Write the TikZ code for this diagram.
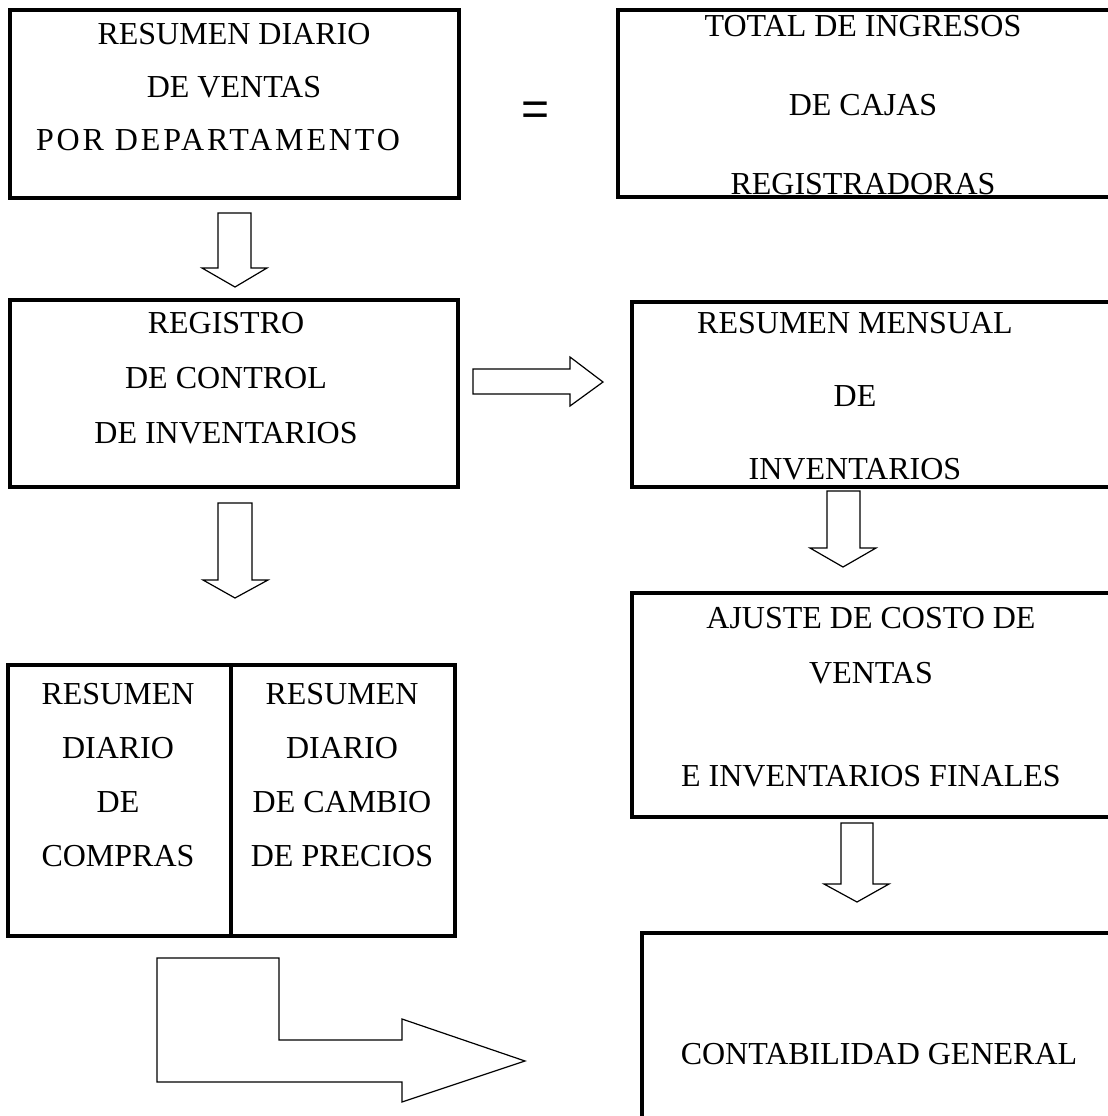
\documentclass[tikz,border=0pt]{standalone}
\usepackage{fontspec}
\setmainfont{Liberation Serif}
\setsansfont{Liberation Sans}
\tikzset{
  box/.style={line width=2.2pt},
  blk/.style={line width=0.6pt, line join=miter},
  txt/.style={font=\fontsize{16pt}{#1}\selectfont, align=center, inner sep=0pt, anchor=north}
}

\begin{document}
\begin{tikzpicture}[x=0.5pt,y=-0.5pt]
\clip (0,0) rectangle (1108,1116);
% cajas
\draw[box] (10,10) rectangle (459,198);
\draw[box] (618,10) rectangle (1130,197);
\draw[box] (10,300) rectangle (458,487);
\draw[box] (632,302) rectangle (1130,487);
\draw[box] (632,593) rectangle (1130,817);
\draw[box] (8,665) rectangle (231,936);
\draw[box] (231,665) rectangle (455,936);
\draw[box] (642,933) rectangle (1130,1140);
% textos
\node[txt=26.5pt] (resventas) at (234,23) {RESUMEN DIARIO\\DE VENTAS\\{\addfontfeature{LetterSpace=9}POR DEPARTAMENTO}\hspace*{16pt}};
\node[txt=39.5pt] (totingresos) at (863,15) {TOTAL DE INGRESOS\\DE CAJAS\\REGISTRADORAS};
\node[font=\sffamily\fontsize{24pt}{24pt}\selectfont, inner sep=0pt] (igual) at (536,114) {=};
\node[txt=27.5pt] (regcontrol) at (226,312) {REGISTRO\\DE CONTROL\\DE INVENTARIOS};
\node[txt=36.5pt] (resmensual) at (855,312) {RESUMEN MENSUAL\\DE\\INVENTARIOS};
\node[txt=27.5pt] (ajuste) at (871,607) {AJUSTE DE COSTO DE\\VENTAS\\[24pt]E INVENTARIOS FINALES};
\node[txt=27pt] (rescompras) at (118,683) {RESUMEN\\DIARIO\\DE\\COMPRAS};
\node[txt=27pt] (rescambio) at (342,683) {RESUMEN\\DIARIO\\DE CAMBIO\\DE PRECIOS};
\node[txt=20pt] (contab) at (879,1043) {CONTABILIDAD GENERAL};
% flechas
\draw[blk] (218,213) -- (251,213) -- (251,268) -- (267,268) -- (235,287)
  -- (202,268) -- (218,268) -- cycle;
\draw[blk] (473,369) -- (570,369) -- (570,357) -- (603,382) -- (570,406)
  -- (570,394) -- (473,394) -- cycle;
\draw[blk] (827,491) -- (860,491) -- (860,548) -- (876,548) -- (843,567)
  -- (810,548) -- (827,548) -- cycle;
\draw[blk] (218,503) -- (252,503) -- (252,580) -- (268,580) -- (235,598)
  -- (203,580) -- (218,580) -- cycle;
\draw[blk] (841,823) -- (873,823) -- (873,884) -- (889,884) -- (857,902)
  -- (824,884) -- (841,884) -- cycle;
\draw[blk] (157,958) -- (279,958) -- (279,1040) -- (402,1040) -- (402,1019)
  -- (525,1061) -- (402,1102) -- (402,1082) -- (157,1082) -- cycle;
\end{tikzpicture}
\end{document}
